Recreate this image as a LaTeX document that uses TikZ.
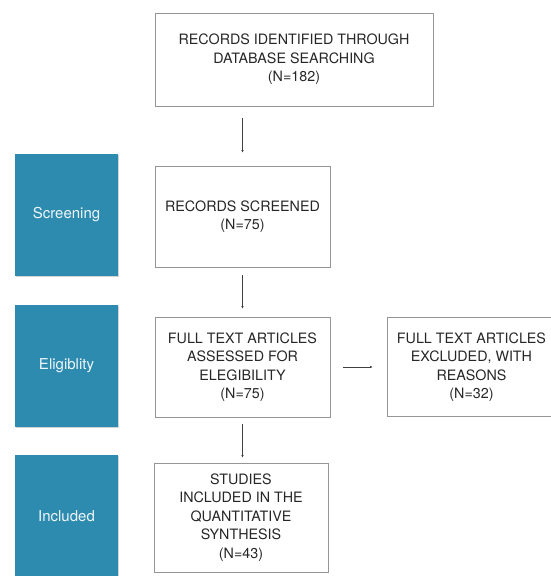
\documentclass[tikz,border=0pt]{standalone}
\usepackage{fontspec}
\setmainfont{TeX Gyre Heros}
\usepackage{tikz}
\usetikzlibrary{arrows.meta,calc,positioning,shadows}
\definecolor{stageblue}{RGB}{46,139,176}
\definecolor{boxgray}{RGB}{150,150,150}

\begin{document}
\begin{tikzpicture}[x=1pt,y=-1pt,
    flowbox/.style={draw=boxgray,line width=0.9pt,align=center,inner sep=2pt,
      font=\fontsize{14.3}{18.5}\selectfont,text=black!85},
    stagebox/.style={fill=stageblue,minimum width=103pt,minimum height=122pt,
      text=white!92!stageblue,font=\fontsize{15}{17}\selectfont,
      drop shadow={shadow xshift=0.6pt,shadow yshift=-1.2pt,opacity=0.35}},
    flowarrow/.style={draw=black!75,line width=0.6pt,-{Latex[length=2.5pt,width=2.5pt]}}]
    \useasboundingbox (0,0) rectangle (550,576);
    % stages on the left
    \foreach \y/\name/\lbl in {215/screening/Screening,366/eligibility/Eligiblity,516/included/Included} {
        \node[stagebox] (\name) at (66.5,\y) {\lbl};
    }
    % flow boxes
    \node[flowbox,minimum width=278pt,minimum height=93pt] (ident) at (294,59.5)
        {RECORDS IDENTIFIED THROUGH\\DATABASE SEARCHING\\(N=182)};
    \node[flowbox,minimum width=175pt,minimum height=101pt] (screened) at (242.5,216.5)
        {RECORDS SCREENED\\(N=75)};
    \node[flowbox,minimum width=175pt,minimum height=100pt] (assessed) at (242.5,367)
        {FULL TEXT ARTICLES\\ASSESSED FOR\\ELEGIBILITY\\(N=75)};
    \node[flowbox,minimum width=169pt,minimum height=99pt] (excluded) at (471.5,367)
        {FULL TEXT ARTICLES\\EXCLUDED, WITH\\REASONS\\(N=32)};
    \node[flowbox,minimum width=174pt,minimum height=109pt] (studies) at (241,517.5)
        {STUDIES\\INCLUDED IN THE\\QUANTITATIVE\\SYNTHESIS\\(N=43)};
    % arrows
    \draw[flowarrow,shorten <=12pt,shorten >=13pt] (ident.south -| screened) -- (screened.north);
    \draw[flowarrow,shorten <=8pt,shorten >=8pt] (screened.south) -- (assessed.north);
    \draw[flowarrow,shorten <=7pt,shorten >=5pt] (assessed.south) -- (assessed.south |- studies.north);
    \draw[flowarrow,shorten <=13pt,shorten >=14pt] (assessed.east) -- (excluded.west);
\end{tikzpicture}
\end{document}
